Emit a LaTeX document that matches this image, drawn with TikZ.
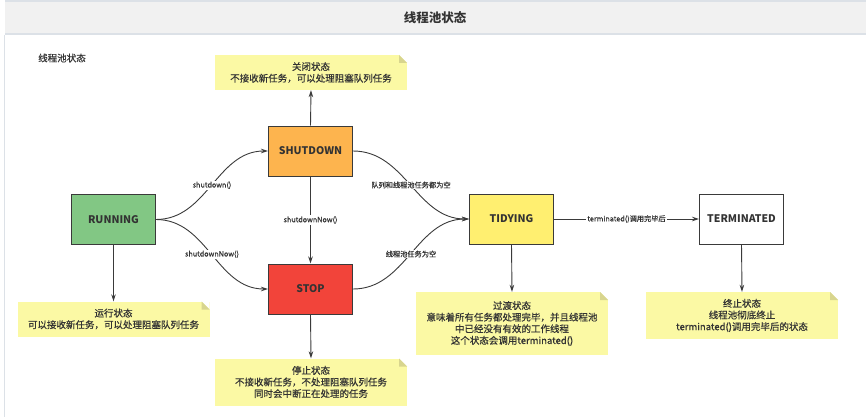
\documentclass[tikz,border=0pt]{standalone}
\usepackage{fontspec}
\setmainfont{Noto Sans CJK SC}
\newfontface\medface{Noto Sans CJK SC}[FakeBold=0.5]
\newfontface\lblface{Noto Sans CJK SC}[FakeBold=0.35]
\usetikzlibrary{arrows.meta}

\definecolor{headfill}{HTML}{F1F1F1}
\definecolor{headline}{HTML}{DCE1E7}
\definecolor{txt}{HTML}{333333}
\definecolor{edgec}{HTML}{3A3A3A}
\definecolor{runc}{HTML}{82C784}
\definecolor{shutc}{HTML}{FDB44E}
\definecolor{stopc}{HTML}{F2443A}
\definecolor{tidyc}{HTML}{FFEF70}
\definecolor{notey}{HTML}{FBF9A4}
\definecolor{foldc}{HTML}{D8D58E}

\tikzset{
  state/.style={draw=edgec, line width=1pt, minimum width=84, minimum height=50,
    inner sep=0, font=\fontsize{10.5}{12}\selectfont\bfseries, text=txt},
  note/.style={fill=notey, minimum width=192, inner sep=0, align=center,
    text=txt, font=\fontsize{9.5}{11.6}\selectfont\medface,
    path picture={
      \fill[white] (path picture bounding box.north east) -- ++(-8pt,0pt) -- ++(8pt,-8pt) -- cycle;
      \fill[foldc] (path picture bounding box.north east) ++(-8pt,0pt) -- ++(0pt,-8pt) -- ++(8pt,0pt) -- cycle;
    }},
  arr/.style={draw=edgec, line width=0.9pt, -{Stealth[length=7pt,width=4.5pt]}},
  elabel/.style={fill=white, inner sep=1pt, text=txt, font=\fontsize{7.2}{8}\selectfont\lblface},
}

\begin{document}
\begin{tikzpicture}[x=1pt, y=-1pt]
  \useasboundingbox (0,0) rectangle (866,417);

  % header band and page frame
  \fill[headfill] (5,2) rectangle (866,33);
  \draw[headline, line width=2pt] (5,1.5) -- (866,1.5);
  \draw[headline, line width=2pt] (5,34) -- (866,34);
  \draw[headline, line width=1pt] (4.5,35) -- (4.5,417);
  \node[text=txt, font=\fontsize{12.5}{14}\selectfont\bfseries] (title) at (435,18) {线程池状态};
  \node[text=txt, font=\fontsize{9.5}{11}\selectfont\medface] (caption) at (62,58) {线程池状态};

  % states
  \node[state, fill=runc] (run) at (113.5,219.5) {RUNNING};
  \node[state, fill=shutc] (shut) at (310.5,151) {SHUTDOWN};
  \node[state, fill=stopc] (stop) at (310.5,289) {STOP};
  \node[state, fill=tidyc] (tidy) at (511.5,219) {TIDYING};
  \node[state, fill=white] (term) at (741.5,219) {TERMINATED};

  % notes
  \node[note, minimum height=35] (nshut) at (311,72.5) {关闭状态\\不接收新任务，可以处理阻塞队列任务};
  \node[note, minimum height=35] (nrun) at (113.5,319) {运行状态\\可以接收新任务，可以处理阻塞队列任务};
  \node[note, minimum height=47] (nstop) at (311,382) {停止状态\\不接收新任务，不处理阻塞队列任务\\同时会中断正在处理的任务};
  \node[note, minimum height=63] (ntidy) at (512,323.5) {过渡状态\\意味着所有任务都处理完毕，并且线程池\\中已经没有有效的工作线程\\这个状态会调用terminated()};
  \node[note, minimum height=47] (nterm) at (742,315.5) {终止状态\\线程池彻底终止\\terminated()调用完毕后的状态};

  % transitions
  \draw[arr] (run.east) to[out=0, in=180] node[elabel] {shutdown()} (shut.west);
  \draw[arr] (run.east) to[out=0, in=180] node[elabel] {shutdownNow()} (stop.west);
  \draw[arr] (shut.south) -- node[elabel] {shutdownNow()} (stop.north);
  \draw[arr] (shut.east) to[out=0, in=180] node[elabel] {队列和线程池任务都为空} (tidy.west);
  \draw[arr] (stop.east) to[out=0, in=180] node[elabel] {线程池任务为空} (tidy.west);
  \draw[arr] (tidy.east) -- node[elabel] {terminated()调用完毕后} (term.west);

  % state descriptions
  \draw[arr] (shut.north) -- (nshut.south);
  \draw[arr] (run.south) -- (nrun.north);
  \draw[arr] (stop.south) -- (nstop.north);
  \draw[arr] (tidy.south) -- (ntidy.north);
  \draw[arr] (term.south) -- (nterm.north);
\end{tikzpicture}
\end{document}
